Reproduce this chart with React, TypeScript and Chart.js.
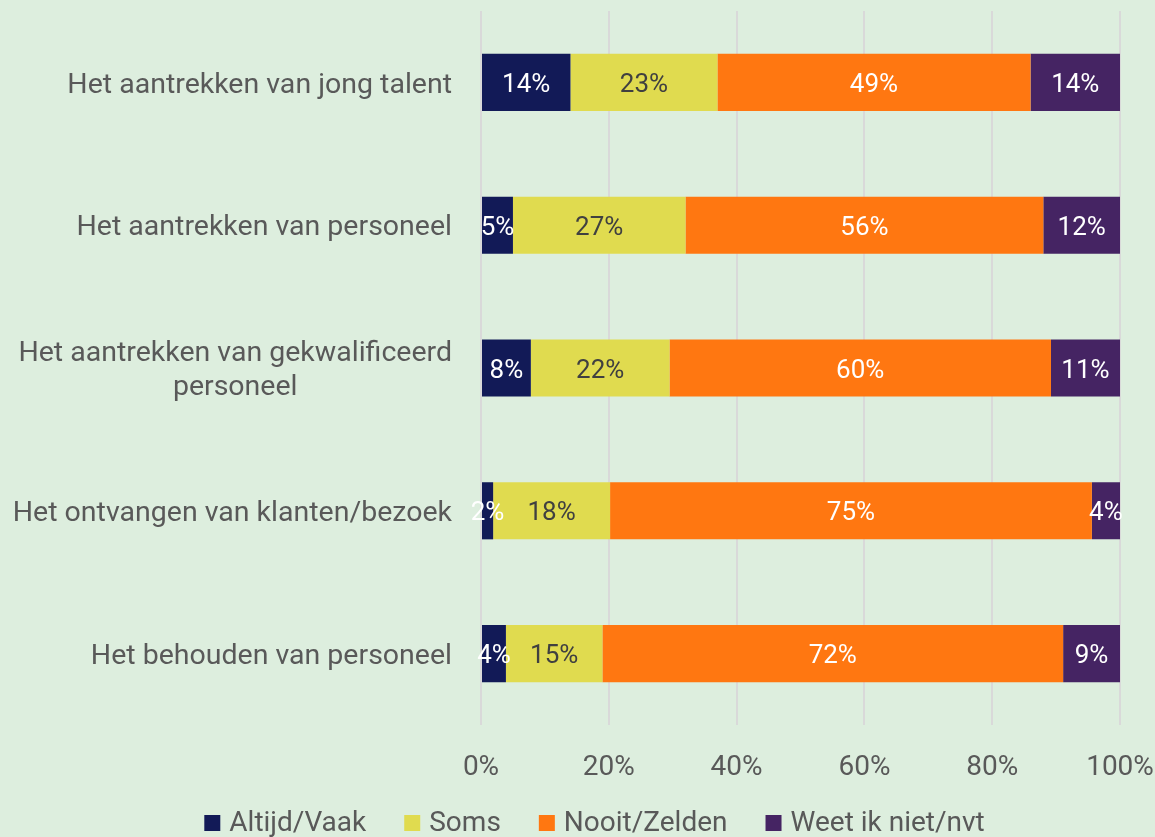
import { useEffect, useRef } from 'react';
import { Chart, registerables } from 'chart.js';

Chart.register(...registerables);

const categories: string[][] = [
  ['Het aantrekken van jong talent'],
  ['Het aantrekken van personeel'],
  ['Het aantrekken van gekwalificeerd', 'personeel'],
  ['Het ontvangen van klanten/bezoek'],
  ['Het behouden van personeel'],
];
const seriesNames = ['Altijd/Vaak', 'Soms', 'Nooit/Zelden', 'Weet ik niet/nvt'];
const altijdVaak = [14, 5, 7.8, 1.9, 3.9];
const soms = [23, 27, 21.7, 18.3, 15.1];
const nooitZelden = [49, 56, 59.7, 75.4, 72.1];
const weetNiet = [14, 12, 10.8, 4.4, 8.9];
const xTicks = [0, 20, 40, 60, 80, 100];

const seriesColors = ['#121A57', '#E0DB4F', '#FF7711', '#452463'];
const labelColors = ['#FFFFFF', '#404040', '#FFFFFF', '#FFFFFF'];
const TEXT = '#595959';
const BG = '#DDEEDE';
const FONT = 'Roboto';

const dataLabelPlugin = {
  id: 'dataLabels',
  afterDatasetsDraw(chart: any) {
    const ctx = chart.ctx;
    ctx.save();
    ctx.font = `26px ${FONT}`;
    ctx.textAlign = 'center';
    ctx.textBaseline = 'middle';
    chart.data.datasets.forEach((ds: any, di: number) => {
      const meta = chart.getDatasetMeta(di);
      meta.data.forEach((bar: any, i: number) => {
        const v = ds.data[i];
        const cx = (bar.x + bar.base) / 2;
        ctx.fillStyle = labelColors[di];
        ctx.fillText(Math.round(v) + '%', cx, bar.y + 3);
      });
    });
    ctx.restore();
  },
};

const categoryLabelPlugin = {
  id: 'categoryLabels',
  afterDraw(chart: any) {
    const ctx = chart.ctx;
    const yScale = chart.scales.y;
    const right = chart.chartArea.left - 29;
    const lineH = 34;
    ctx.save();
    ctx.font = `28.5px ${FONT}`;
    ctx.fillStyle = TEXT;
    ctx.textBaseline = 'middle';
    categories.forEach((lines, i) => {
      const cy = yScale.getPixelForTick(i) + 3;
      const widths = lines.map((l) => ctx.measureText(l).width);
      const maxW = Math.max(...widths);
      const center = right - maxW / 2;
      const top = cy - ((lines.length - 1) * lineH) / 2;
      lines.forEach((l, li) => {
        ctx.textAlign = 'center';
        ctx.fillText(l, center, top + li * lineH);
      });
    });
    ctx.restore();
  },
};

const legendPlugin = {
  id: 'customLegend',
  afterDraw(chart: any) {
    const ctx = chart.ctx;
    const box = 16;
    const gapBoxText = 9;
    const gapItems = 38;
    ctx.save();
    ctx.font = `28px ${FONT}`;
    ctx.textBaseline = 'middle';
    ctx.textAlign = 'left';
    const widths = seriesNames.map((n) => ctx.measureText(n).width);
    const total =
      widths.reduce((a, w) => a + box + gapBoxText + w, 0) + gapItems * (seriesNames.length - 1);
    let x = chart.width / 2 + 17 - total / 2;
    const cy = chart.height - 14;
    seriesNames.forEach((n, i) => {
      ctx.fillStyle = seriesColors[i];
      ctx.fillRect(x, cy - box / 2, box, box);
      x += box + gapBoxText;
      ctx.fillStyle = TEXT;
      ctx.fillText(n, x, cy + 1);
      x += widths[i] + gapItems;
    });
    ctx.restore();
  },
};

export default function App() {
  const ref = useRef<HTMLCanvasElement | null>(null);

  useEffect(() => {
    if (!ref.current) return;
    const seriesData = [altijdVaak, soms, nooitZelden, weetNiet];
    const chart = new Chart(ref.current, {
      type: 'bar',
      data: {
        labels: categories,
        datasets: seriesNames.map((name, i) => ({
          label: name,
          data: seriesData[i],
          backgroundColor: seriesColors[i],
          borderWidth: 0,
          barPercentage: 0.4,
          categoryPercentage: 1,
        })),
      },
      options: {
        indexAxis: 'y',
        animation: false,
        responsive: false,
        maintainAspectRatio: false,
        layout: { padding: { top: 11, right: 0, bottom: 56, left: 0 } },
        plugins: {
          legend: { display: false },
          tooltip: { enabled: false },
        },
        scales: {
          x: {
            stacked: true,
            min: 0,
            max: 100,
            afterBuildTicks(scale: any) {
              scale.ticks = xTicks.map((v) => ({ value: v }));
            },
            afterFit(scale: any) {
              scale.height = 56;
              scale.paddingLeft = 0;
              scale.paddingRight = 35;
            },
            grid: { color: '#D9D9D9', lineWidth: 2, drawTicks: false },
            border: { display: false },
            ticks: {
              padding: 26,
              color: TEXT,
              font: { family: FONT, size: 28 },
              callback: (v: any) => v + '%',
            },
          },
          y: {
            stacked: true,
            afterFit(scale: any) {
              scale.width = 481;
            },
            grid: { display: false },
            border: { display: false },
            ticks: { display: false },
          },
        },
      },
      plugins: [dataLabelPlugin, categoryLabelPlugin, legendPlugin],
    });
    return () => chart.destroy();
  }, []);

  return (
    <div
      style={{
        position: 'fixed',
        left: 0,
        top: 0,
        width: 1155,
        height: 837,
        background: BG,
      }}
    >
      <canvas ref={ref} width={1155} height={837} style={{ display: 'block' }} />
    </div>
  );
}
